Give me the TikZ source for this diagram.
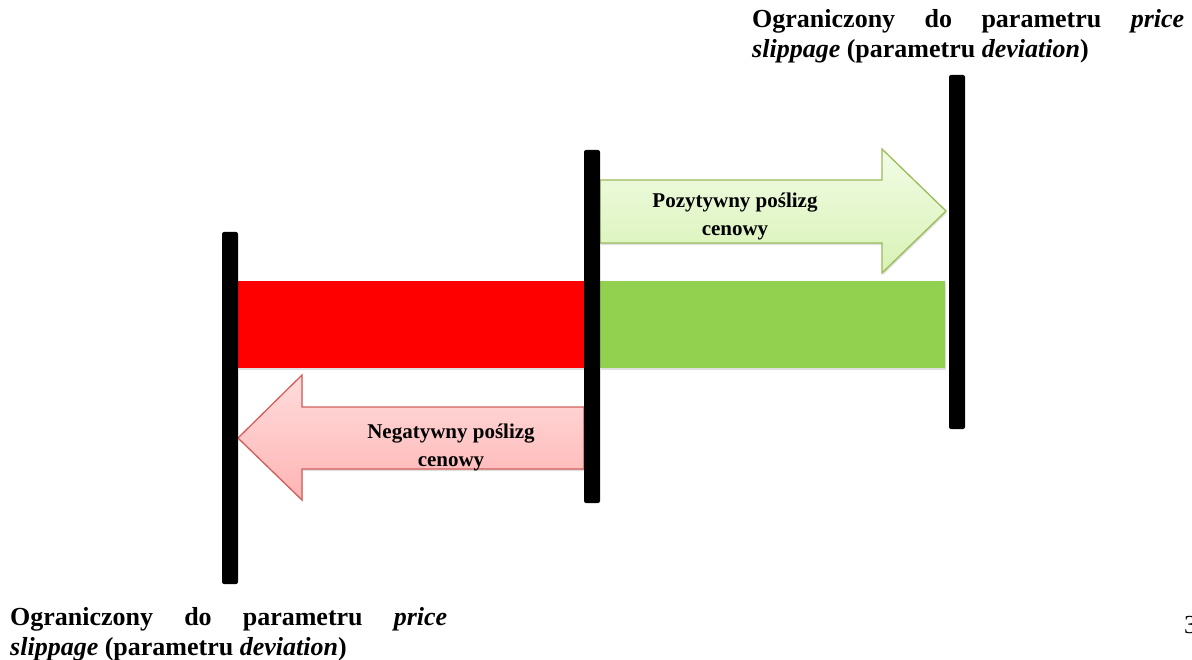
\documentclass[tikz,border=0pt]{standalone}
\usepackage{fontspec}
\setmainfont{Liberation Serif}
\usetikzlibrary{shadows}
\definecolor{barred}{HTML}{FF0000}
\definecolor{bargreen}{HTML}{92D050}
\definecolor{garrowtop}{HTML}{F2FCE6}
\definecolor{garrowbot}{HTML}{D8F2B5}
\definecolor{garrowline}{HTML}{9BBB59}
\definecolor{rarrowtop}{HTML}{FFDCDC}
\definecolor{rarrowbot}{HTML}{FFB4B4}
\definecolor{rarrowline}{HTML}{D05F5C}
\newcommand\myNoHyph{\hyphenpenalty 10000\relax\exhyphenpenalty 10000\relax}
\begin{document}
\begin{tikzpicture}[x=1pt,y=-1pt,
  barline/.style={fill=black, draw=none, rounded corners=2pt, inner sep=0pt, minimum width=16pt},
  blockbar/.style={draw=none, inner sep=0pt, drop shadow={opacity=0.25, shadow xshift=1pt, shadow yshift=-2pt}},
  arrowshape/.style={line width=1.3pt, line join=miter, drop shadow={opacity=0.25, shadow xshift=1pt, shadow yshift=-2pt}},
  arrowtext/.style={font=\bfseries\fontsize{21}{28}\selectfont, align=center, inner sep=0pt},
  caption/.style={font=\bfseries\fontsize{26}{30}\selectfont\myNoHyph, text width=432pt, align=justify, inner sep=0pt, anchor=north west}
]
\useasboundingbox (0,0) rectangle (1192,660);

% coloured bars
\node[blockbar, fill=barred, minimum width=346pt, minimum height=87pt] (redbar) at (411,324.5) {};
\node[blockbar, fill=bargreen, minimum width=345pt, minimum height=87pt] (greenbar) at (772.5,324.5) {};

% arrows
\path[arrowshape, draw=garrowline, top color=garrowtop, bottom color=garrowbot]
  (600,180) -- (882,180) -- (882,149) -- (946,211) -- (882,273) -- (882,243) -- (600,243) -- cycle;
\node[arrowtext] (postext) at (735,216) {Pozytywny poślizg\\cenowy};

\path[arrowshape, draw=rarrowline, top color=rarrowtop, bottom color=rarrowbot]
  (584,407) -- (302,407) -- (302,375) -- (238,438) -- (302,500) -- (302,469) -- (584,469) -- cycle;
\node[arrowtext] (negtext) at (451,447) {Negatywny poślizg\\cenowy};

% vertical bars
\node[barline, minimum height=352pt] (leftbar) at (230,408) {};
\node[barline, minimum height=353pt] (midbar) at (592,326.5) {};
\node[barline, minimum height=354pt] (rightbar) at (957,252) {};

% captions
\node[caption] (toptext) at (752,9) {Ograniczony do parametru \textit{price slippage} (parametru \textit{deviation})};
\node[caption, text width=437pt] (bottext) at (10,607) {Ograniczony do parametru \textit{price slippage} (parametru \textit{deviation})};

\node[anchor=base west, inner sep=0pt, font=\fontsize{26}{30}\selectfont] (pagenum) at (1184,633) {3};
\end{tikzpicture}
\end{document}
